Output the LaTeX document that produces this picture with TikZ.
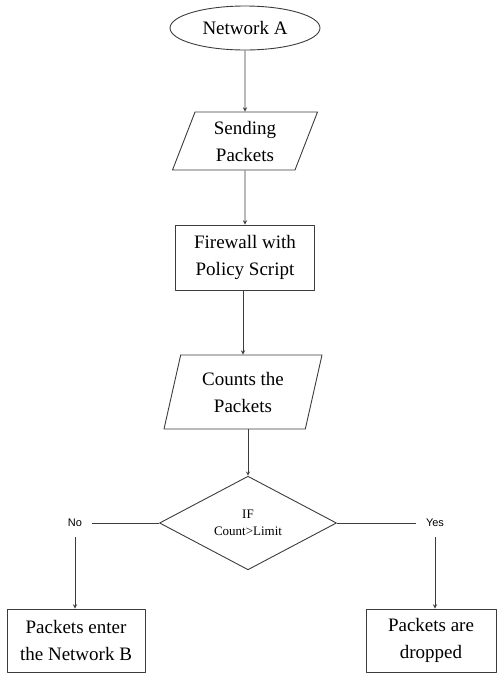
\documentclass[tikz,border=0pt]{standalone}
\usepackage{fontspec}
\setmainfont{Liberation Serif}
\newfontfamily\branchfont{Liberation Sans}
\usetikzlibrary{shapes.geometric}
\definecolor{linegray}{RGB}{60,60,60}
\tikzset{
 startnode/.style={ellipse, draw=linegray, line width=0.9pt, minimum width=150, minimum height=44, inner sep=0pt},
 iobox/.style={trapezium, trapezium stretches body=true, draw=linegray, line width=0.9pt, align=center, inner sep=1pt},
 procbox/.style={rectangle, draw=linegray, line width=0.9pt, align=center, inner sep=0pt},
 decbox/.style={diamond, draw=linegray, line width=0.9pt, align=center, inner sep=0pt, minimum width=177, minimum height=86, font=\fontsize{13}{17}\selectfont},
 branchlabel/.style={inner sep=10pt, font=\branchfont\fontsize{11}{13}\selectfont},
 flowline/.style={draw=linegray, line width=0.9pt}
}
\begin{document}
\begin{tikzpicture}[x=1pt, y=-1pt, line join=round, >=stealth, font=\fontsize{19}{27}\selectfont]
 \useasboundingbox (0,0) rectangle (497,673);
 % main column
 \node[startnode] (netA) at (245,28) {Network A};
 \node[iobox, trapezium left angle=62, trapezium right angle=118, minimum width=145, minimum height=58] (send) at (245,141) {Sending\\Packets};
 \node[procbox, minimum width=139, minimum height=65] (fw) at (245,257.5) {Firewall with\\Policy Script};
 \node[iobox, trapezium left angle=68.5, trapezium right angle=111.5, minimum width=158, minimum height=74] (count) at (243,392) {Counts the\\Packets};
 \node[decbox] (dec) at (248,523) {IF\\Count>Limit};
 % branches
 \node[branchlabel] (no) at (75,523) {No};
 \node[branchlabel] (yes) at (435,523) {Yes};
 \node[procbox, minimum width=138, minimum height=63] (enterB) at (76,640.5) {Packets enter\\the Network B};
 \node[procbox, minimum width=130, minimum height=63] (drop) at (431,640.5) {Packets are\\dropped};
 % connectors
 \draw[flowline,->] (netA.south) -- (send.north);
 \draw[flowline,->] (send.south) -- (fw.north);
 \draw[flowline,->] (fw.south -| count.north) -- (count.north);
 \draw[flowline,->] (count.south -| dec.north) -- (dec.north);
 \draw[flowline] (dec.west) -- (no.east);
 \draw[flowline] (dec.east) -- (yes.west);
 \draw[flowline,->] (no.south) -- (no.south |- enterB.north);
 \draw[flowline,->] (yes.south) -- (yes.south |- drop.north);
\end{tikzpicture}
\end{document}
